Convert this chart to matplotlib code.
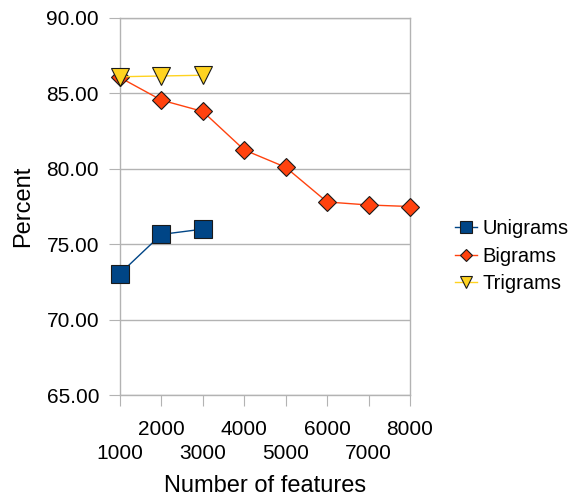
import matplotlib
matplotlib.use('Agg')
import matplotlib.pyplot as plt
from matplotlib.lines import Line2D

plt.rcParams['font.family'] = ['Liberation Sans', 'DejaVu Sans']

features = [1000, 2000, 3000, 4000, 5000, 6000, 7000, 8000]
unigrams = [73.05, 75.65, 76.0]
bigrams = [86.05, 84.55, 83.8, 81.25, 80.1, 77.8, 77.6, 77.5]
trigrams = [86.1, 86.15, 86.2]

c_uni = '#004586'
c_bi = '#ff420e'
c_tri = '#ffd320'
grid_c = '#b3b3b3'

fig = plt.figure(figsize=(5.71, 4.97), dpi=100)
ax = fig.add_axes([0.210, 0.205, 0.508, 0.759])

ax.plot(features[:3], unigrams, color=c_uni, lw=1, marker='s', ms=13,
        mfc=c_uni, mec='#1a1a1a', mew=0.8, zorder=3, clip_on=False)
ax.plot(features, bigrams, color=c_bi, lw=1, marker='D', ms=9,
        mfc=c_bi, mec='#1a1a1a', mew=0.8, zorder=3, clip_on=False)
ax.plot(features[:3], trigrams, color=c_tri, lw=1, marker='v', ms=13,
        mfc=c_tri, mec='#1a1a1a', mew=0.8, zorder=4, clip_on=False)

ax.set_xlim(1000, 8000)
ax.set_ylim(65, 90)
ax.set_yticks([65, 70, 75, 80, 85, 90])
ax.set_yticklabels(['%.2f' % v for v in [65, 70, 75, 80, 85, 90]])
ax.set_xticks(features)
ax.set_xticklabels([str(f) for f in features])
ax.yaxis.grid(True, color=grid_c, lw=1)
ax.set_axisbelow(True)
for s in ax.spines.values():
    s.set_color(grid_c)
    s.set_linewidth(1)
ax.tick_params(axis='y', direction='out', length=8, color=grid_c, labelsize=15, pad=7)
ax.tick_params(axis='x', direction='out', length=8, color=grid_c, labelsize=15, pad=10)
for i, t in enumerate(ax.xaxis.get_major_ticks()):
    if i % 2 == 0:
        t.set_pad(27)

ax.set_xlabel('Number of features', fontsize=17, labelpad=9)
ax.set_ylabel('Percent', fontsize=17, labelpad=9)

handles = [
    Line2D([], [], color=c_uni, lw=1, marker='s', ms=8, mfc=c_uni, mec='#1a1a1a', mew=0.8),
    Line2D([], [], color=c_bi, lw=1, marker='D', ms=6, mfc=c_bi, mec='#1a1a1a', mew=0.8),
    Line2D([], [], color=c_tri, lw=1, marker='v', ms=8, mfc=c_tri, mec='#1a1a1a', mew=0.8),
]
fig.legend(handles, ['Unigrams', 'Bigrams', 'Trigrams'], loc='center left',
           bbox_to_anchor=(0.797, 0.484), frameon=False, fontsize=14.5,
           handlelength=1.1, handletextpad=0.25, labelspacing=0.42,
           borderpad=0, borderaxespad=0)

fig.savefig('out.png', dpi=100)
